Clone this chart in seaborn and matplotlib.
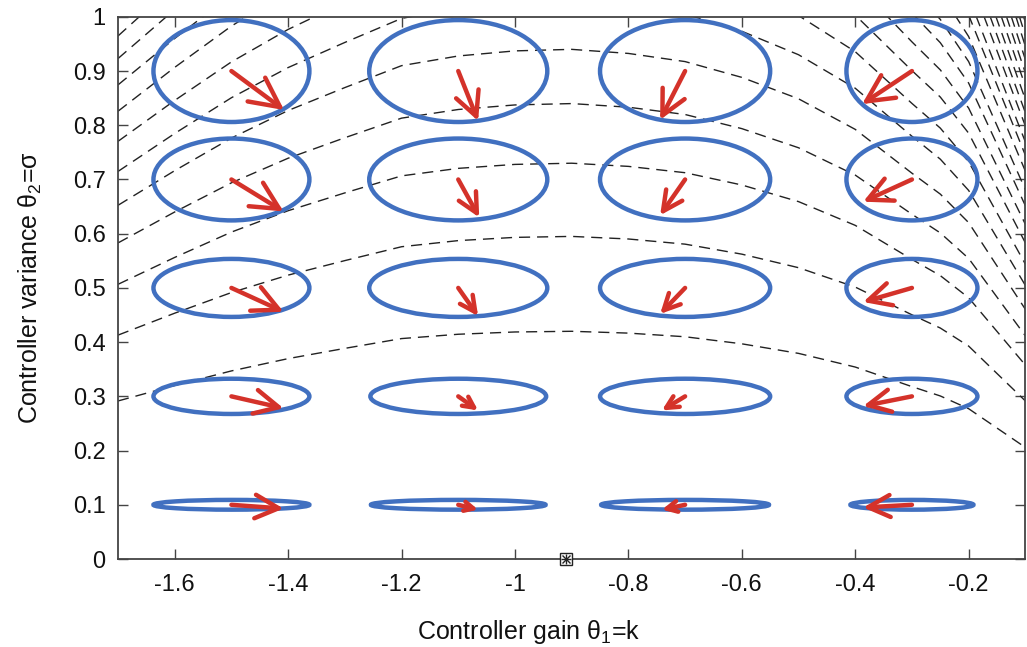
import matplotlib
matplotlib.use("Agg")
import matplotlib.pyplot as plt
from matplotlib.patches import Ellipse
from matplotlib.ticker import FuncFormatter
import seaborn as sns
import numpy as np
import pandas as pd

# grid of policy parameters where the metric ellipses / gradients are shown
gain_centers = [-1.5, -1.1, -0.7, -0.3]
var_centers = [0.1, 0.3, 0.5, 0.7, 0.9]

# ellipse sizes (data units), rows follow var_centers, columns gain_centers
ellipse_widths = [
    [0.275, 0.308, 0.296, 0.217],
    [0.275, 0.310, 0.300, 0.231],
    [0.275, 0.314, 0.300, 0.231],
    [0.275, 0.314, 0.300, 0.231],
    [0.275, 0.314, 0.300, 0.231],
]
ellipse_heights = [0.018, 0.065, 0.107, 0.151, 0.188]

# gradient arrows (delta k, delta sigma)
arrow_dk = [
    [0.092, 0.035, -0.041, -0.086],
    [0.092, 0.035, -0.041, -0.086],
    [0.092, 0.035, -0.044, -0.086],
    [0.092, 0.037, -0.044, -0.086],
    [0.093, 0.035, -0.044, -0.088],
]
arrow_ds = [
    [-0.007, -0.009, -0.009, -0.005],
    [-0.022, -0.026, -0.026, -0.018],
    [-0.044, -0.052, -0.048, -0.026],
    [-0.059, -0.070, -0.066, -0.041],
    [-0.072, -0.092, -0.090, -0.061],
]

# shape of the iso-return curves (relative height vs. gain)
profile_k = [-1.70, -1.60, -1.50, -1.40, -1.30, -1.20, -1.10, -1.00, -0.90, -0.80,
             -0.70, -0.60, -0.50, -0.40, -0.30, -0.25, -0.20, -0.15, -0.10]
profile_h = [0.694, 0.762, 0.826, 0.880, 0.925, 0.968, 0.987, 0.997, 1.000, 0.992,
             0.976, 0.945, 0.903, 0.843, 0.757, 0.716, 0.660, 0.575, 0.490]
# peak height of each dashed contour
contour_peaks = [0.42, 0.595, 0.73, 0.84, 0.94, 1.03, 1.11, 1.19, 1.26, 1.33, 1.39,
                 1.46, 1.52, 1.57, 1.63, 1.68, 1.73, 1.78, 1.83, 1.88, 1.93, 1.97,
                 2.02, 2.06, 2.10, 2.15]

optimum = (-0.91, 0.0)

xticks = [-1.6, -1.4, -1.2, -1.0, -0.8, -0.6, -0.4, -0.2]
yticks = [0, 0.1, 0.2, 0.3, 0.4, 0.5, 0.6, 0.7, 0.8, 0.9, 1.0]

sns.set_theme(style="ticks")
plt.rcParams["font.family"] = ["Liberation Sans", "DejaVu Sans"]
plt.rcParams["axes.unicode_minus"] = False
plt.rcParams["mathtext.fontset"] = "custom"
plt.rcParams["mathtext.rm"] = "Liberation Sans"
plt.rcParams["mathtext.it"] = "Liberation Sans"

fig = plt.figure(figsize=(10.27, 6.47), dpi=100)
ax = fig.add_axes([0.1149, 0.136, 0.8835, 0.838])
ax.set_xlim(-1.7, -0.1)
ax.set_ylim(0, 1)

rows = []
for lev, peak in enumerate(contour_peaks):
    for k, h in zip(profile_k, profile_h):
        rows.append({"k": k, "sigma": peak * h, "level": lev})
contours = pd.DataFrame(rows)

sns.lineplot(
    data=contours,
    x="k",
    y="sigma",
    style="level",
    units="level",
    estimator=None,
    dashes=[(8, 5)] * len(contour_peaks),
    color="#222222",
    linewidth=1.0,
    legend=False,
    ax=ax,
)
ax.set_xlim(-1.7, -0.1)
ax.set_ylim(0, 1)

blue = "#4170c0"
red = "#d4322a"
for i, s in enumerate(var_centers):
    for j, k in enumerate(gain_centers):
        ax.add_patch(Ellipse((k, s), ellipse_widths[i][j], ellipse_heights[i],
                             fill=False, edgecolor=blue, linewidth=3.2, zorder=3))
        tip = (k + arrow_dk[i][j], s + arrow_ds[i][j])
        # quiver-like head: size follows the arrow length on screen
        p0 = ax.transData.transform((k, s))
        p1 = ax.transData.transform(tip)
        length_pt = np.hypot(*(p1 - p0)) * 72 / fig.dpi
        ax.annotate(
            "",
            xy=tip,
            xytext=(k, s),
            arrowprops=dict(arrowstyle="->,head_length=1.0,head_width=0.5",
                            color=red, lw=3.2, mutation_scale=0.45 * length_pt,
                            shrinkA=0, shrinkB=0),
            zorder=4,
        )

ax.plot(*optimum, marker="s", ms=9, mfc="white", mec="#222222", mew=1.0,
        clip_on=False, zorder=5)
ax.plot(*optimum, marker="x", ms=6, color="#222222", mew=1.0, clip_on=False, zorder=6)
ax.plot(*optimum, marker="+", ms=7, color="#222222", mew=1.0, clip_on=False, zorder=6)

ax.set_xticks(xticks)
ax.set_yticks(yticks)
fmt = FuncFormatter(lambda v, p: f"{v:g}")
ax.xaxis.set_major_formatter(fmt)
ax.yaxis.set_major_formatter(fmt)
ax.tick_params(direction="in", length=7, width=1.0, color="#444444",
               top=True, right=True, labelsize=17, labelcolor="#111111")
ax.tick_params(axis="x", pad=11)
ax.tick_params(axis="y", pad=9)
for sp in ax.spines.values():
    sp.set_color("#444444")
    sp.set_linewidth(1.3)

ax.set_xlabel(r"Controller gain θ$_1$=k", fontsize=18, color="#111111")
ax.set_ylabel(r"Controller variance θ$_2$=σ", fontsize=18, color="#111111")
ax.xaxis.set_label_coords(0.453, -0.108)
ax.yaxis.set_label_coords(-0.082, 0.5)

fig.savefig("out.png", dpi=100)
plt.close(fig)
